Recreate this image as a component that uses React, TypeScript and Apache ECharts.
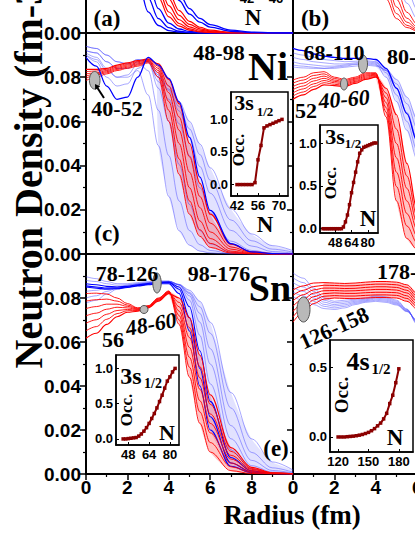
import React, { useEffect, useRef } from 'react';
import * as echarts from 'echarts';

// radius grid (fm) shared by every density curve
const R = [0, 0.5, 1, 1.5, 2, 2.5, 3, 3.5, 4, 4.5, 5, 5.5, 6, 7, 8, 9, 10];

// ---- panel (a) ----
const A_BLUE_1 = [0.085,0.0825,0.0785,0.0676,0.047,0.0244,0.0096,0.0034,0.0011,0.0004,0.0001,0,0,0,0,0,0];
const A_BLUE_2 = [0.085,0.083,0.0797,0.0717,0.0554,0.0337,0.016,0.0065,0.0024,0.0008,0.0003,0.0001,0,0,0,0,0];
const A_BLUE_3 = [0.085,0.0832,0.0804,0.074,0.0612,0.0425,0.0235,0.011,0.0045,0.0018,0.0007,0.0003,0.0001,0,0,0,0];
const A_RED_1 = [0.085,0.0835,0.0812,0.0762,0.0663,0.05,0.0313,0.0161,0.0073,0.0031,0.0013,0.0005,0.0002,0,0,0,0];
const A_RED_2 = [0.085,0.0838,0.0812,0.0766,0.0679,0.053,0.0349,0.0197,0.0095,0.0043,0.0019,0.0008,0.0003,0.0001,0,0,0];
const A_RED_3 = [0.085,0.084,0.0815,0.077,0.0688,0.0558,0.0391,0.0233,0.0124,0.006,0.0028,0.0013,0.0006,0.0001,0,0,0];
const A_RED_4 = [0.085,0.084,0.082,0.0775,0.0695,0.0578,0.0425,0.0272,0.0155,0.008,0.0039,0.0019,0.0009,0.0002,0,0,0];
const A_RED_5 = [0.085,0.0842,0.0823,0.078,0.0705,0.0595,0.0455,0.0307,0.0183,0.0101,0.0053,0.0026,0.0013,0.0003,0.0001,0,0];
const A_BLUE_4 = [0.085,0.0842,0.0822,0.0785,0.0704,0.0611,0.0491,0.0359,0.0239,0.0147,0.0085,0.0049,0.0027,0.0008,0.0002,0,0];
const A_BLUE_5 = [0.085,0.0842,0.0822,0.0787,0.0702,0.0618,0.0509,0.0389,0.0273,0.0179,0.011,0.0066,0.0038,0.0013,0.0004,0.0001,0];

// ---- panel (b) ----
const B_RED_1 = [0.085,0.0849,0.0846,0.0838,0.0825,0.0785,0.0695,0.0529,0.0321,0.0155,0.0065,0.0025,0.0009,0.0001,0,0,0];
const B_RED_2 = [0.085,0.0849,0.0847,0.084,0.083,0.0799,0.0724,0.0581,0.0383,0.02,0.0088,0.0035,0.0014,0.0002,0,0,0];
const B_RED_3 = [0.085,0.0849,0.0847,0.0842,0.0833,0.0808,0.0752,0.063,0.0446,0.0251,0.0118,0.0049,0.002,0.0003,0,0,0];
const B_RED_4 = [0.085,0.0849,0.0848,0.0844,0.0837,0.0815,0.077,0.067,0.0504,0.0305,0.0153,0.0067,0.0027,0.0004,0,0,0];
const B_RED_5 = [0.085,0.0849,0.0848,0.0845,0.084,0.082,0.0785,0.0703,0.0558,0.0364,0.02,0.0094,0.004,0.0007,0.0001,0,0];
const B_BLUE_1 = [0.085,0.0849,0.0848,0.0845,0.084,0.082,0.0785,0.0715,0.0593,0.0425,0.0257,0.0135,0.0065,0.0013,0.0002,0,0];
const B_BLUE_2 = [0.085,0.0849,0.0848,0.0845,0.084,0.0822,0.0788,0.0731,0.0627,0.0487,0.033,0.0198,0.0107,0.0026,0.0006,0.0001,0];
const B_BLUE_3 = [0.085,0.0849,0.0848,0.0845,0.084,0.0823,0.079,0.074,0.0657,0.0538,0.0395,0.0259,0.0153,0.0045,0.0012,0.0003,0.0001];
const B_BLUE_4 = [0.085,0.0849,0.0848,0.0845,0.084,0.0824,0.0793,0.0749,0.068,0.0577,0.0451,0.0321,0.0209,0.0072,0.0022,0.0006,0.0002];

// ---- panel (c) Ni ----
const NI_BLUE_1 = [0.09,0.088,0.083,0.08,0.08,0.083,0.072,0.049,0.026,0.0105,0.004,0.0013,0.0005,0,0,0,0];
const NI_BLUE_2 = [0.092,0.091,0.087,0.084,0.084,0.087,0.083,0.065,0.0445,0.024,0.0106,0.0042,0.0016,0.0002,0,0,0];
const NI_BLUE_3 = [0.094,0.093,0.09,0.087,0.086,0.088,0.087,0.075,0.06,0.0405,0.0224,0.0106,0.0046,0.0008,0.0001,0,0];
const NI_BLUE_4 = [0.089,0.085,0.076,0.07,0.071,0.08,0.089,0.0855,0.0795,0.0688,0.0528,0.0348,0.0197,0.0047,0.001,0.0002,0];
const NI_BLUE_5 = [0.09,0.087,0.08,0.076,0.077,0.084,0.087,0.078,0.07,0.059,0.0445,0.03,0.0186,0.0058,0.0016,0.0004,0.0001];
const NI_BLUE_6 = [0.092,0.091,0.087,0.084,0.084,0.087,0.088,0.08,0.074,0.0647,0.0528,0.0396,0.0275,0.0107,0.0036,0.0011,0.0004];
const NI_BLUE_7 = [0.091,0.089,0.084,0.08,0.081,0.086,0.087,0.08,0.0746,0.0667,0.0566,0.045,0.0334,0.0154,0.006,0.0022,0.0008];
const NI_BLUE_8 = [0.094,0.093,0.09,0.087,0.086,0.088,0.088,0.081,0.076,0.069,0.06,0.0498,0.039,0.0204,0.0091,0.0038,0.0015];
const NI_RED_1 = [0.0785,0.08,0.0815,0.083,0.084,0.085,0.0865,0.08,0.06,0.036,0.018,0.008,0.003,0.0004,0,0,0];
const NI_RED_2 = [0.0795,0.081,0.082,0.0835,0.0845,0.0855,0.087,0.082,0.065,0.043,0.024,0.011,0.0048,0.0008,0.0001,0,0];
const NI_RED_3 = [0.0805,0.0815,0.0825,0.084,0.085,0.086,0.0873,0.083,0.069,0.05,0.03,0.015,0.007,0.0013,0.0002,0,0];
const NI_RED_4 = [0.0815,0.082,0.083,0.0845,0.0855,0.0865,0.0876,0.084,0.073,0.056,0.037,0.021,0.01,0.0022,0.0004,0.0001,0];
const NI_RED_5 = [0.0825,0.0828,0.0835,0.085,0.086,0.087,0.088,0.085,0.076,0.062,0.044,0.026,0.014,0.0032,0.0007,0.0001,0];
const NI_RED_6 = [0.0835,0.0835,0.084,0.0855,0.0865,0.0875,0.0883,0.086,0.079,0.068,0.05,0.032,0.018,0.0045,0.001,0.0002,0];

// ---- panel (d) ----
const D_BLUE_1 = [0.093,0.092,0.0905,0.0895,0.089,0.0885,0.0885,0.0885,0.088,0.084,0.075,0.0635,0.051,0.029,0.014,0.006,0.0025];
const D_BLUE_2 = [0.091,0.09,0.089,0.088,0.0875,0.087,0.0872,0.0875,0.087,0.082,0.072,0.06,0.047,0.025,0.011,0.0045,0.0018];
const D_BLUE_3 = [0.089,0.088,0.087,0.0865,0.086,0.086,0.0865,0.087,0.0865,0.083,0.075,0.064,0.052,0.03,0.015,0.0065,0.0027];
const D_BLUE_4 = [0.087,0.086,0.0855,0.085,0.085,0.0855,0.086,0.0865,0.086,0.08,0.069,0.056,0.043,0.021,0.0085,0.0033,0.0012];
const D_BLUE_5 = [0.0855,0.085,0.0845,0.084,0.0845,0.085,0.0857,0.086,0.0855,0.083,0.077,0.068,0.057,0.035,0.018,0.008,0.0035];
const D_BLUE_6 = [0.0846,0.0842,0.084,0.084,0.084,0.0845,0.085,0.0855,0.085,0.0835,0.079,0.071,0.061,0.04,0.022,0.01,0.0045];
const D_RED_1 = [0.0787,0.08,0.082,0.0825,0.08,0.079,0.08,0.082,0.082,0.062,0.024,0.007,0.002,0.0002,0,0,0];
const D_RED_2 = [0.0773,0.0787,0.0808,0.0815,0.0794,0.0785,0.0795,0.0815,0.0817,0.0642,0.0305,0.0127,0.005,0.0008,0.0001,0,0];
const D_RED_3 = [0.0758,0.0773,0.0795,0.0805,0.0787,0.0779,0.0791,0.081,0.0813,0.0663,0.037,0.0183,0.008,0.0015,0.0002,0,0];
const D_RED_4 = [0.0744,0.076,0.0783,0.0795,0.0781,0.0774,0.0786,0.0805,0.081,0.0685,0.0435,0.024,0.011,0.0021,0.0004,0,0];
const D_RED_5 = [0.0729,0.0747,0.077,0.0785,0.0775,0.0769,0.0781,0.08,0.0807,0.0707,0.05,0.0297,0.014,0.0027,0.0005,0.0001,0];
const D_RED_6 = [0.0715,0.0733,0.0758,0.0775,0.0768,0.0763,0.0777,0.0795,0.0803,0.0728,0.0565,0.0353,0.017,0.0034,0.0006,0.0001,0];
const D_RED_7 = [0.07,0.072,0.0745,0.0765,0.0762,0.0758,0.0772,0.079,0.08,0.075,0.063,0.041,0.02,0.004,0.0007,0.0001,0];

// ---- panel (e) Sn ----
const SN_BLUE_1 = [0.085,0.0845,0.084,0.0842,0.0848,0.0855,0.086,0.0865,0.0865,0.082,0.065,0.04,0.02,0.0035,0.0006,0.0001,0];
const SN_BLUE_2 = [0.0855,0.085,0.0845,0.0845,0.085,0.0857,0.0863,0.0868,0.087,0.084,0.071,0.048,0.026,0.005,0.0009,0.0002,0];
const SN_BLUE_3 = [0.0865,0.086,0.0853,0.085,0.0853,0.086,0.0866,0.087,0.0872,0.085,0.076,0.056,0.033,0.0075,0.0014,0.0003,0];
const SN_BLUE_4 = [0.088,0.0875,0.0865,0.0858,0.086,0.0865,0.087,0.0874,0.0875,0.086,0.079,0.063,0.041,0.011,0.0023,0.0005,0.0001];
const SN_BLUE_5 = [0.0897,0.0888,0.0875,0.0865,0.0865,0.087,0.0875,0.0878,0.0877,0.086,0.081,0.069,0.05,0.016,0.0038,0.0009,0.0002];
const SN_BLUE_6 = [0.083,0.0835,0.0845,0.085,0.0858,0.0865,0.087,0.0875,0.0876,0.086,0.082,0.073,0.057,0.022,0.0062,0.0016,0.0004];
const SN_BLUE_7 = [0.08,0.081,0.083,0.0845,0.0855,0.0862,0.0868,0.0873,0.0875,0.086,0.0825,0.076,0.064,0.03,0.0098,0.0028,0.0008];
const SN_BLUE_8 = [0.0776,0.079,0.0818,0.084,0.085,0.086,0.0866,0.0872,0.0875,0.0862,0.0835,0.0785,0.069,0.037,0.016,0.0055,0.0018];
const SN_RED_1 = [0.082,0.0822,0.0818,0.08,0.0775,0.0755,0.0765,0.08,0.0832,0.068,0.044,0.023,0.01,0.0015,0.0002,0,0];
const SN_RED_2 = [0.0786,0.0792,0.0795,0.0786,0.0768,0.0753,0.0763,0.0798,0.083,0.07,0.0485,0.0282,0.0143,0.0033,0.0007,0.0001,0];
const SN_RED_3 = [0.0752,0.0761,0.0772,0.0772,0.0762,0.075,0.0762,0.0795,0.0828,0.072,0.053,0.0333,0.0187,0.005,0.0011,0.0002,0];
const SN_RED_4 = [0.0719,0.0731,0.0749,0.0758,0.0755,0.0748,0.076,0.0793,0.0826,0.074,0.0575,0.0385,0.023,0.0068,0.0016,0.0003,0];
const SN_RED_5 = [0.0685,0.0701,0.0726,0.0743,0.0748,0.0745,0.0758,0.079,0.0824,0.076,0.062,0.0437,0.0273,0.0085,0.0021,0.0004,0.0001];
const SN_RED_6 = [0.0651,0.067,0.0703,0.0729,0.0742,0.0743,0.0757,0.0788,0.0822,0.078,0.0665,0.0488,0.0317,0.0103,0.0025,0.0005,0.0001];
const SN_RED_7 = [0.0617,0.064,0.068,0.0715,0.0735,0.074,0.0755,0.0785,0.082,0.08,0.071,0.054,0.036,0.012,0.003,0.0006,0.0001];

// ---- panel (f) ----
const F_BLUE_1 = [0.0914,0.089,0.0845,0.08,0.0785,0.079,0.0795,0.08,0.081,0.0805,0.079,0.075,0.068,0.045,0.022,0.009,0.003];
const F_BLUE_2 = [0.0892,0.087,0.083,0.079,0.0778,0.0783,0.079,0.0796,0.0805,0.08,0.0785,0.0748,0.0685,0.046,0.023,0.0095,0.0034];
const F_BLUE_3 = [0.087,0.085,0.0815,0.0781,0.077,0.0776,0.0785,0.0792,0.08,0.0795,0.078,0.0745,0.069,0.047,0.024,0.01,0.0037];
const F_BLUE_4 = [0.0849,0.083,0.08,0.0771,0.0763,0.0769,0.078,0.0788,0.0795,0.079,0.0776,0.0742,0.0693,0.048,0.025,0.0105,0.004];
const F_BLUE_5 = [0.0827,0.081,0.0785,0.0762,0.0755,0.0762,0.0775,0.0784,0.079,0.0785,0.0772,0.074,0.0696,0.049,0.026,0.011,0.0043];
const F_BLUE_6 = [0.0805,0.079,0.077,0.0752,0.0748,0.0755,0.077,0.078,0.0785,0.078,0.0768,0.0738,0.07,0.05,0.027,0.0115,0.0046];
const F_RED_1 = [0.0836,0.0855,0.0868,0.087,0.0868,0.0866,0.0868,0.0872,0.0875,0.0875,0.0872,0.086,0.082,0.062,0.032,0.012,0.004];
const F_RED_2 = [0.0812,0.0835,0.0852,0.0858,0.0857,0.0855,0.0856,0.086,0.0863,0.0863,0.086,0.0848,0.0808,0.0613,0.032,0.0122,0.0041];
const F_RED_3 = [0.0787,0.0815,0.0837,0.0845,0.0845,0.0843,0.0844,0.0848,0.0851,0.0851,0.0848,0.0835,0.0797,0.0607,0.032,0.0123,0.0042];
const F_RED_4 = [0.0763,0.0795,0.0822,0.0833,0.0834,0.0832,0.0833,0.0836,0.0839,0.0839,0.0836,0.0823,0.0785,0.06,0.032,0.0125,0.0043];
const F_RED_5 = [0.0739,0.0775,0.0806,0.082,0.0823,0.0821,0.0821,0.0824,0.0826,0.0826,0.0824,0.081,0.0773,0.0593,0.032,0.0127,0.0043];
const F_RED_6 = [0.0714,0.0755,0.0791,0.0808,0.0811,0.0809,0.0809,0.0812,0.0814,0.0814,0.0812,0.0798,0.0762,0.0587,0.032,0.0128,0.0044];
const F_RED_7 = [0.069,0.0735,0.0775,0.0795,0.08,0.0798,0.0797,0.08,0.0802,0.0802,0.08,0.0785,0.075,0.058,0.032,0.013,0.0045];

// ---- insets: occupation of the s1/2 level vs neutron number ----
const NI_N = [42,44,46,48,50,52,54,56,58,60,62,64,66,68,70,72];
const NI_OCC = [0,0,0,0,0,0,0.03,0.38,0.6,0.87,0.9,0.92,0.94,0.96,0.98,1.0];
const D_N = [36,38,40,42,44,46,48,50,52,54,56,58,60,62,64,66,68,70,72,74,76,78,80,82,84,86,88];
const D_OCC = [0,0,0,0,0,0,0,0,0,0,0.02,0.08,0.16,0.28,0.42,0.54,0.66,0.78,0.88,0.92,0.95,0.96,0.97,0.98,0.99,1.0,1.0];
const SN_N = [44,46,48,50,52,54,56,58,60,62,64,66,68,70,72,74,76,78,80,82,84];
const SN_OCC = [0,0,0.005,0.01,0.015,0.02,0.04,0.07,0.11,0.16,0.22,0.29,0.36,0.44,0.53,0.62,0.72,0.82,0.88,0.95,1.0];
const F_N = [120,123,126,129,132,135,138,141,144,147,150,153,156,159,162,165,168,171,174,177,180];
const F_OCC = [0,0,0,0.002,0.004,0.006,0.009,0.013,0.018,0.025,0.033,0.045,0.06,0.08,0.1,0.13,0.17,0.24,0.3,0.39,0.49];

// tick labels
const X_TICKS = [0, 2, 4, 6, 8];
const Y_TICKS = [0, 0.02, 0.04, 0.06, 0.08];
const TOP_Y_TICKS = [0];
const NI_X_TICKS = [42, 56, 70];
const D_X_TICKS = [48, 64, 80];
const SN_X_TICKS = [48, 64, 80];
const F_X_TICKS = [120, 150, 180];
const OCC_TICKS = [0, 0.5, 1.0];
const F_OCC_TICKS = [0, 0.5];

const DB = '#0000ff';
const LB = 'rgba(70,70,255,0.6)';
const RD = '#ff0000';
const BLUE_FILL = 'rgba(110,110,255,0.2)';
const RED_FILL = 'rgba(255,40,40,0.28)';
const MAROON = '#8b0000';
const SERIF = '"Liberation Serif", "Times New Roman", serif';
const SANS = '"Liberation Sans", Arial, sans-serif';

function curve(vals: number[], gi: number, color: string, width: number) {
  return {
    type: 'line', xAxisIndex: gi, yAxisIndex: gi, z: 2, silent: true,
    data: R.map((r, i) => [r, vals[i]]),
    symbol: 'none', showSymbol: false, smooth: 0.35, smoothMonotone: 'x',
    lineStyle: { color, width }, clip: true,
  };
}

// light fill between the lowest and highest curve of a band (from radius `from` on)
function band(arrs: number[][], gi: number, from: number, color: string) {
  const idx = R.map((_, i) => i).filter((i) => R[i] >= from);
  const lo = idx.map((i) => Math.min(...arrs.map((a) => a[i])));
  const hi = idx.map((i) => Math.max(...arrs.map((a) => a[i])));
  return {
    type: 'custom', xAxisIndex: gi, yAxisIndex: gi, z: 1, silent: true, clip: true,
    data: [[from, 0]],
    renderItem: (_p: any, api: any) => {
      const pts: number[][] = [];
      idx.forEach((i, k) => pts.push(api.coord([R[i], hi[k]])));
      for (let k = idx.length - 1; k >= 0; k--) pts.push(api.coord([R[idx[k]], lo[k]]));
      return { type: 'polygon', shape: { points: pts, smooth: 0.25 }, style: { fill: color } };
    },
  };
}

function occ(ns: number[], vals: number[], gi: number) {
  return {
    type: 'line', xAxisIndex: gi, yAxisIndex: gi, z: 12, silent: true,
    data: ns.map((n, i) => [n, vals[i]]),
    symbol: 'rect', symbolSize: 3.5, showSymbol: true,
    lineStyle: { color: MAROON, width: 2 }, itemStyle: { color: MAROON },
  };
}

function mainX(gi: number, labels: boolean) {
  return {
    gridIndex: gi, type: 'value', min: 0, max: 10, interval: 2,
    axisLine: { show: true, onZero: false, lineStyle: { color: '#000', width: 2 } },
    axisTick: { show: labels, length: 6, lineStyle: { color: '#000', width: 1.5 } },
    minorTick: { show: labels, splitNumber: 2, length: 3, lineStyle: { color: '#000', width: 1.2 } },
    axisLabel: {
      show: labels, customValues: X_TICKS, margin: 4, color: '#000', fontFamily: SANS, fontWeight: 'bold', fontSize: 19,
      formatter: (v: number) => String(v),
    },
    splitLine: { show: false },
  };
}

function mainY(gi: number, labels: boolean) {
  return {
    gridIndex: gi, type: 'value', min: 0, max: 0.1, interval: 0.02,
    axisLine: { show: true, onZero: false, lineStyle: { color: '#000', width: 2 } },
    axisTick: { show: true, length: 6, lineStyle: { color: '#000', width: 1.5 } },
    minorTick: { show: true, splitNumber: 2, length: 3, lineStyle: { color: '#000', width: 1.2 } },
    axisLabel: {
      show: labels, customValues: Y_TICKS, margin: 5, color: '#000', fontFamily: SANS, fontWeight: 'bold', fontSize: 19,
      formatter: (v: number) => v.toFixed(2),
    },
    splitLine: { show: false },
  };
}

// top row: only its lowest 33 px (0 .. 0.0149 fm^-3) is inside the picture
function topY(gi: number, labels: boolean) {
  return {
    gridIndex: gi, type: 'value', min: 0, max: 0.01493,
    axisLine: { show: true, onZero: false, lineStyle: { color: '#000', width: 2 } },
    axisTick: { show: true, length: 6, customValues: TOP_Y_TICKS, lineStyle: { color: '#000', width: 1.5 } },
    axisLabel: {
      show: labels, customValues: TOP_Y_TICKS, margin: 5, color: '#000', fontFamily: SANS, fontWeight: 'bold', fontSize: 19,
      formatter: (v: number) => v.toFixed(2),
    },
    splitLine: { show: false },
  };
}

function insetX(gi: number, min: number, max: number, ticks: number[]) {
  return {
    gridIndex: gi, type: 'value', min, max, z: 12,
    axisLine: { show: true, onZero: false, lineStyle: { color: '#000', width: 1.5 } },
    axisTick: { show: true, inside: true, length: 3, customValues: ticks, lineStyle: { color: '#000', width: 1 } },
    axisLabel: { show: true, customValues: ticks, margin: 3, color: '#000', fontFamily: SANS, fontWeight: 'bold', fontSize: 13 },
    splitLine: { show: false },
  };
}

function insetY(gi: number, min: number, max: number, ticks: number[]) {
  return {
    gridIndex: gi, type: 'value', min, max, z: 12,
    axisLine: { show: true, onZero: false, lineStyle: { color: '#000', width: 1.5 } },
    axisTick: { show: true, inside: true, length: 3, customValues: ticks, lineStyle: { color: '#000', width: 1 } },
    axisLabel: {
      show: true, customValues: ticks, margin: 3, color: '#000', fontFamily: SANS, fontWeight: 'bold', fontSize: 13,
      formatter: (v: number) => v.toFixed(1),
    },
    splitLine: { show: false },
  };
}

function txt(text: string, x: number, y: number, size: number, opt: any = {}) {
  return {
    type: 'text', x, y, rotation: opt.rot || 0, z: 50,
    style: {
      text, fill: '#000',
      font: `${opt.italic ? 'italic ' : ''}bold ${size}px ${opt.sans ? SANS : SERIF}`,
      align: opt.align || 'center', verticalAlign: 'middle',
    },
  };
}

function ell(cx: number, cy: number, rx: number, ry: number) {
  return {
    type: 'ellipse', z: 40, shape: { cx, cy, rx, ry },
    style: { fill: '#b9b9b9', stroke: '#555', lineWidth: 1 },
  };
}

export default function App() {
  const ref = useRef<HTMLDivElement>(null);
  useEffect(() => {
    if (!ref.current) return;
    const chart = echarts.init(ref.current, undefined, { renderer: 'svg' });
    const base = { containLabel: false, outerBoundsMode: 'none' };
    const mainGrid = { ...base, show: true, borderColor: '#000', borderWidth: 2, backgroundColor: 'transparent' };
    const insetGrid = { ...base, show: true, borderColor: '#000', borderWidth: 1.5, backgroundColor: '#fff', z: 6 };
    const grid = [
      { ...base, show: false, left: 86, top: 0, width: 207, height: 33 },
      { ...base, show: false, left: 293, top: 0, width: 207, height: 33 },
      { ...mainGrid, left: 86, top: 33, width: 207, height: 221 },
      { ...mainGrid, left: 293, top: 33, width: 207, height: 221 },
      { ...mainGrid, left: 86, top: 254, width: 207, height: 220 },
      { ...mainGrid, left: 293, top: 254, width: 207, height: 220 },
      { ...insetGrid, left: 231, top: 92, width: 57, height: 104 },
      { ...insetGrid, left: 320, top: 125, width: 58, height: 108 },
      { ...insetGrid, left: 116, top: 355, width: 63, height: 90 },
      { ...insetGrid, left: 330, top: 340, width: 83, height: 112 },
    ];
    const xAxis = [
      mainX(0, false), mainX(1, false), mainX(2, false), mainX(3, false), mainX(4, true), mainX(5, true),
      insetX(6, 38, 76, NI_X_TICKS), insetX(7, 33, 90, D_X_TICKS), insetX(8, 38.5, 87, SN_X_TICKS), insetX(9, 112, 194, F_X_TICKS),
    ];
    const yAxis = [
      topY(0, true), topY(1, false), mainY(2, true), mainY(3, false), mainY(4, true), mainY(5, false),
      insetY(6, -0.175, 1.42, OCC_TICKS), insetY(7, -0.05, 1.21, OCC_TICKS), insetY(8, -0.086, 1.19, OCC_TICKS), insetY(9, -0.108, 0.697, F_OCC_TICKS),
    ];
    const niBlue = [NI_BLUE_1, NI_BLUE_2, NI_BLUE_3, NI_BLUE_4, NI_BLUE_5, NI_BLUE_6, NI_BLUE_7, NI_BLUE_8];
    const niRed = [NI_RED_1, NI_RED_2, NI_RED_3, NI_RED_4, NI_RED_5, NI_RED_6];
    const dBlue = [D_BLUE_1, D_BLUE_2, D_BLUE_3, D_BLUE_4, D_BLUE_5, D_BLUE_6];
    const dRed = [D_RED_1, D_RED_2, D_RED_3, D_RED_4, D_RED_5, D_RED_6, D_RED_7];
    const snBlue = [SN_BLUE_1, SN_BLUE_2, SN_BLUE_3, SN_BLUE_4, SN_BLUE_5, SN_BLUE_6, SN_BLUE_7, SN_BLUE_8];
    const snRed = [SN_RED_1, SN_RED_2, SN_RED_3, SN_RED_4, SN_RED_5, SN_RED_6, SN_RED_7];
    const fRed = [F_RED_1, F_RED_2, F_RED_3, F_RED_4, F_RED_5, F_RED_6, F_RED_7];
    const series: any[] = [
      band(niBlue, 2, 3.5, BLUE_FILL), band(niRed, 2, 3.5, RED_FILL),
      band(dBlue, 3, 4, BLUE_FILL), band(dRed, 3, 4, RED_FILL),
      band(snBlue, 4, 4, BLUE_FILL), band(snRed, 4, 4, RED_FILL),
      band(fRed, 5, 1.5, RED_FILL),
      // (a)
      curve(A_BLUE_1, 0, DB, 1.3), curve(A_BLUE_2, 0, DB, 1.3), curve(A_BLUE_3, 0, DB, 1.3),
      curve(A_RED_1, 0, RD, 1.2), curve(A_RED_2, 0, RD, 1.2), curve(A_RED_3, 0, RD, 1.2), curve(A_RED_4, 0, RD, 1.2), curve(A_RED_5, 0, RD, 1.2),
      curve(A_BLUE_4, 0, DB, 1.3), curve(A_BLUE_5, 0, DB, 1.3),
      // (b)
      curve(B_BLUE_1, 1, LB, 0.8), curve(B_BLUE_2, 1, LB, 0.8), curve(B_BLUE_3, 1, LB, 0.8), curve(B_BLUE_4, 1, LB, 0.8),
      curve(B_RED_1, 1, RD, 0.9), curve(B_RED_2, 1, RD, 0.9), curve(B_RED_3, 1, RD, 0.9), curve(B_RED_4, 1, RD, 0.9), curve(B_RED_5, 1, RD, 0.9),
      // (c) Ni
      curve(NI_BLUE_1, 2, LB, 0.8), curve(NI_BLUE_2, 2, LB, 0.8), curve(NI_BLUE_3, 2, LB, 0.8),
      curve(NI_BLUE_5, 2, LB, 0.8), curve(NI_BLUE_6, 2, LB, 0.8), curve(NI_BLUE_7, 2, LB, 0.8), curve(NI_BLUE_8, 2, LB, 0.8),
      curve(NI_RED_1, 2, RD, 0.9), curve(NI_RED_2, 2, RD, 0.9), curve(NI_RED_3, 2, RD, 0.9),
      curve(NI_RED_4, 2, RD, 0.9), curve(NI_RED_5, 2, RD, 0.9), curve(NI_RED_6, 2, RD, 1.2),
      curve(NI_BLUE_4, 2, DB, 1.3),
      // (d)
      curve(D_BLUE_2, 3, LB, 0.8), curve(D_BLUE_3, 3, LB, 0.8), curve(D_BLUE_4, 3, LB, 0.8), curve(D_BLUE_5, 3, LB, 0.8), curve(D_BLUE_6, 3, LB, 0.8),
      curve(D_RED_1, 3, RD, 0.9), curve(D_RED_2, 3, RD, 0.9), curve(D_RED_3, 3, RD, 0.9), curve(D_RED_4, 3, RD, 0.9),
      curve(D_RED_5, 3, RD, 0.9), curve(D_RED_6, 3, RD, 0.9), curve(D_RED_7, 3, RD, 1.2),
      curve(D_BLUE_1, 3, DB, 1.3),
      // (e) Sn
      curve(SN_BLUE_4, 4, LB, 0.8), curve(SN_BLUE_5, 4, LB, 0.8), curve(SN_BLUE_6, 4, LB, 0.8), curve(SN_BLUE_7, 4, LB, 0.8), curve(SN_BLUE_8, 4, LB, 0.8),
      curve(SN_BLUE_1, 4, DB, 1.1), curve(SN_BLUE_2, 4, DB, 1.1), curve(SN_BLUE_3, 4, DB, 1.1),
      curve(SN_RED_1, 4, RD, 0.9), curve(SN_RED_2, 4, RD, 0.9), curve(SN_RED_3, 4, RD, 0.9), curve(SN_RED_4, 4, RD, 0.9),
      curve(SN_RED_5, 4, RD, 0.9), curve(SN_RED_6, 4, RD, 0.9), curve(SN_RED_7, 4, RD, 1.1),
      // (f)
      curve(F_BLUE_1, 5, LB, 0.8), curve(F_BLUE_2, 5, LB, 0.8), curve(F_BLUE_3, 5, LB, 0.8),
      curve(F_BLUE_4, 5, LB, 0.8), curve(F_BLUE_5, 5, LB, 0.8), curve(F_BLUE_6, 5, LB, 0.8),
      curve(F_RED_1, 5, RD, 1.0), curve(F_RED_2, 5, RD, 1.0), curve(F_RED_3, 5, RD, 1.0), curve(F_RED_4, 5, RD, 1.0),
      curve(F_RED_5, 5, RD, 1.0), curve(F_RED_6, 5, RD, 1.0), curve(F_RED_7, 5, RD, 1.0),
      // insets
      occ(NI_N, NI_OCC, 6), occ(D_N, D_OCC, 7), occ(SN_N, SN_OCC, 8), occ(F_N, F_OCC, 9),
    ];
    const graphic: any[] = [
      // axis titles
      txt('Neutron Density (fm-3)', 28, 170, 40, { rot: Math.PI / 2 }),
      txt('Radius (fm)', 292, 515, 27),
      // (a) / (b)
      txt('(a)', 107, 18, 23), txt('(b)', 315, 18, 23), txt('N', 253, 17, 23),
      txt('42', 247, -2, 13, { sans: true }), txt('46', 276, -2, 13, { sans: true }),
      // (c)
      txt('48-98', 219, 52, 22), txt('Ni', 268, 66, 40), txt('40-52', 117, 108, 22),
      txt('(c)', 107, 233, 23), txt('N', 265, 224, 23),
      ell(94.7, 80.3, 5.3, 8.8),
      { type: 'line', z: 45, shape: { x1: 104, y1: 98, x2: 97.5, y2: 88 }, style: { stroke: '#000', lineWidth: 2 } },
      { type: 'polygon', z: 45, shape: { points: [[95, 84], [100.2, 86.6], [95.2, 89.8]] }, style: { fill: '#000' } },
      txt('3s', 244, 102.5, 22), txt('1/2', 265, 111, 13), txt('Occ.', 238, 150, 17, { rot: Math.PI / 2 }),
      // (d)
      txt('68-110', 334, 52, 22), txt('80-128', 387, 56, 22, { align: 'left' }),
      txt('40-60', 344, 99, 22, { italic: true, rot: 0.08 }), txt('52', 306, 110, 22),
      ell(363, 64, 4.5, 9), ell(344, 84, 3.5, 6),
      txt('3s', 335, 136, 22), txt('1/2', 353, 143, 13), txt('Occ.', 330, 183, 17, { rot: Math.PI / 2 }), txt('N', 368, 218, 23),
      // (e)
      txt('78-126', 127, 273, 22), txt('98-176', 219, 273, 22), txt('Sn', 270, 288, 38),
      txt('48-60', 151, 324, 22, { italic: true, rot: 0.18 }), txt('56', 113, 339, 22), txt('(e)', 276, 448, 23),
      ell(157, 283, 4.2, 10), ell(144, 309.5, 4, 4),
      txt('3s', 131, 376, 24), txt('1/2', 153, 383, 14), txt('Occ.', 126, 410, 17, { rot: Math.PI / 2 }), txt('N', 167, 432, 22),
      // (f)
      txt('178-230', 377, 271, 22, { align: 'left' }), txt('126-158', 334, 328, 22, { rot: 0.42 }),
      ell(303.5, 309.5, 6.5, 12.5),
      txt('4s', 358, 361, 26), txt('1/2', 381, 369, 15), txt('Occ.', 341, 395, 19, { rot: Math.PI / 2 }), txt('N', 395, 437, 23),
    ];
    chart.setOption({ animation: false, backgroundColor: '#fff', grid, xAxis, yAxis, series, graphic });
    return () => chart.dispose();
  }, []);
  return <div ref={ref} style={{ position: 'fixed', left: 0, top: 0, width: 415, height: 537, background: '#fff' }} />;
}
